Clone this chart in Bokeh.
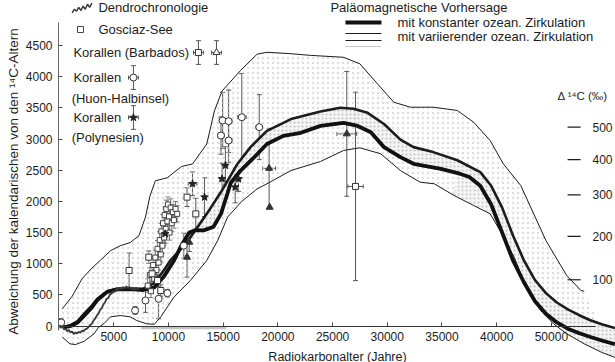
import numpy as np
from bokeh.plotting import figure
from bokeh.models import FixedTicker, Range1d, Whisker, ColumnDataSource, TeeHead, LinearAxis
from bokeh.core.properties import value
from bokeh.embed import file_html
from bokeh.resources import INLINE

FONT = "Liberation Sans"
INK = "#1c1c1c"

# ---------------- data ----------------
x_ticks = [5000, 10000, 15000, 20000, 25000, 30000, 35000, 40000, 45000]
x_tick_labels = ["5000", "10000", "15000", "20000", "25000", "30000", "35000", "40000", "50000"]
y_ticks = [0, 500, 1000, 1500, 2000, 2500, 3000, 3500, 4000, 4500]

# Dendrochronologie
dendro_x = [0, 150, 300, 450, 600, 750, 900, 1050, 1200, 1350, 1500, 1650, 1800, 1950, 2100, 2250,
            2400, 2550, 2700, 2850, 3000, 3150, 3300, 3450, 3600, 3750, 3900, 4050, 4200, 4350, 4500,
            4650, 4800, 4950, 5100, 5250, 5400, 5550, 5700, 5850, 6000, 6150, 6300, 6450, 6600, 6750,
            6900, 7050, 7200, 7350]
dendro_y = [20, -30, 10, -50, -40, -80, -60, -100, -85, -125, -100, -115, -90, -105, -70, -80,
            -50, -40, -10, 20, 40, 90, 120, 170, 200, 260, 290, 350, 380, 440, 450,
            510, 520, 560, 550, 600, 580, 620, 590, 630, 600, 640, 610, 630, 590, 620,
            580, 610, 590, 600]

# Paläomagnetische Vorhersage – outer envelope
env_up_x = [300, 1200, 2100, 3000, 3800, 4700, 5600, 6500, 7300, 7900, 8300, 8800, 9900, 11200, 12200,
            13500, 14200, 14900, 16600, 18100, 19000, 21000, 23000, 26000, 27500, 29100, 30600, 32100,
            34200, 36400, 37900, 39400, 40600, 42200, 44500, 46400, 47700, 48000]
env_up_y = [279, 480, 760, 930, 1060, 1210, 1290, 1340, 1450, 1750, 2080, 2330, 2380, 2560, 2600,
            2920, 3450, 3770, 4100, 4360, 4390, 4370, 4340, 4310, 4205, 3885, 3590, 3510,
            3510, 3457, 3269, 2976, 2603, 2255, 1373, 813, 572, 560]
env_lo_x = [300, 1000, 1500, 2300, 3200, 3600, 4100, 4700, 5600, 6500, 7100, 8000, 8700, 9300, 10500,
            12000, 13500, 14500, 15400, 16700, 18100, 19000, 21200, 23900, 26000, 27500, 29400, 31200,
            33000, 34300, 36100, 37900, 39400, 40300, 41600, 42800, 44000, 45200, 46400, 48000, 49600,
            50800]
env_lo_y = [-176, -283, -295, -240, -122, -20, 40, 150, 171, 150, 91, 38, 30, 150, 465,
            732, 1053, 1373, 1747, 2000, 2200, 2282, 2495, 2640, 2816, 2859, 2763, 2495,
            2308, 2282, 2095, 1934, 1801, 1534, 1106, 572, 252, 38, -122, -282, -420, -500]

# mit variierender ozean. Zirkulation (upper thick curve)
var_x = [400, 1000, 1700, 2300, 3000, 3500, 4400, 5300, 6000, 6800, 7700, 8700, 9600, 10200, 11100,
         12000, 12900, 13800, 14800, 15400, 16300, 17500, 19000, 21200, 23900, 25700, 26900, 28200,
         29700, 31200, 32400, 34200, 36400, 38500, 39500, 40500, 41500, 42500, 43500, 44500, 45500,
         46500, 47500, 48500, 49600, 50800]
var_y = [-20, 10, 80, 200, 330, 440, 560, 600, 605, 600, 600, 690, 900, 1060, 1230,
         1420, 1650, 1880, 2150, 2330, 2600, 2870, 3130, 3320, 3440, 3500, 3485, 3420,
         3240, 2990, 2870, 2790, 2660, 2470, 2250, 1900, 1450, 1050, 740, 530, 380,
         270, 180, 100, 30, -30]

# mit konstanter ozean. Zirkulation (heavy curve)
const_x = [400, 1000, 1700, 2300, 3000, 3500, 4400, 5300, 6800, 7700, 8700, 9600, 10500, 11200, 11900,
           12500, 13200, 14100, 14800, 15400, 15700, 16600, 17800, 19000, 20500, 22100, 23900, 26000,
           27200, 28500, 29700, 31200, 32400, 34900, 36700, 37500, 38500, 39500, 40500, 41500, 42500,
           43500, 44500, 45500, 46500, 47500, 48500, 49600, 50800]
const_y = [-20, 0, 60, 170, 300, 420, 550, 590, 590, 580, 620, 800, 1050, 1300, 1500,
           1540, 1535, 1590, 1800, 2130, 2300, 2495, 2700, 2920, 3050, 3100, 3210, 3260,
           3216, 3109, 2870, 2710, 2603, 2520, 2440, 2390, 2250, 1950, 1500, 1050, 700,
           400, 200, 60, -40, -110, -170, -230, -290]

# Gosciaz-See
gos_x = [8100, 8300, 8400, 8600, 8700, 8800, 8900, 9000, 9100, 9200, 9300, 9350, 9450, 9500, 9600,
         9650, 9750, 9800, 9900, 9950, 10050, 10100, 10200, 10300, 10400, 10500, 10650, 10800]
gos_y = [650, 820, 560, 980, 760, 1100, 900, 1240, 1020, 1380, 1150, 1520, 1290, 1650, 1420,
         1780, 1560, 1880, 1680, 1950, 1760, 1500, 1900, 1650, 1830, 1700, 1880, 1800]
gos_yerr = [110, 120, 100, 130, 110, 120, 110, 130, 120, 140, 120, 130, 120, 140, 130,
            130, 120, 140, 130, 120, 130, 120, 140, 130, 120, 130, 120, 130]

# Korallen (Barbados) – squares and triangles
barb_sq_x = [6400, 8200, 8500, 9000, 9300, 11700, 12500, 27100]
barb_sq_y = [893, 1106, 840, 732, 572, 2068, 1800, 2240]
barb_sq_xerr = [150, 100, 100, 100, 100, 200, 200, 700]
barb_sq_yerr = [280, 100, 120, 100, 90, 150, 250, 1510]
barb_tri_x = [11700, 11900, 19200, 19250, 26300]
barb_tri_y = [1106, 1346, 2530, 1907, 3083]
barb_tri_xerr = [150, 100, 600, 0, 900]
barb_tri_yerr = [320, 150, 640, 0, 1000]

# Korallen (Huon-Halbinsel)
huon_x = [200, 6950, 7900, 9100, 9900, 11400, 14800, 14950, 15500, 15500, 16700, 18300]
huon_y = [60, 252, 412, 439, 529, 1290, 3056, 3297, 2976, 3285, 3349, 3190]
huon_xerr = [100, 100, 150, 150, 150, 150, 300, 300, 300, 300, 400, 300]
huon_yerr = [60, 60, 190, 320, 60, 200, 300, 450, 350, 500, 700, 520]

# Korallen (Polynesien)
poly_x = [9700, 12200, 13300, 14900, 15200, 16100, 16400]
poly_y = [1480, 2282, 2068, 2362, 2575, 2228, 2360]
poly_xerr = [150, 400, 150, 200, 200, 200, 200]
poly_yerr = [150, 190, 310, 250, 300, 250, 200]

# Δ14C scale
delta_labels = ["100", "200", "300", "400", "500"]
delta_y = [744, 1438, 2106, 2671, 3189]

y_title = "Abweichung der kalendarischen von den \u00b9\u2074C-Altern"
x_title = "Radiokarbonalter (Jahre)"

# ---------------- figure ----------------
p = figure(width=615, height=362, x_range=Range1d(-50, 50860), y_range=Range1d(-582, 5220),
           output_backend="svg", toolbar_location=None,
           min_border_left=58, min_border_right=0, min_border_top=0, min_border_bottom=0)
p.grid.visible = False
p.outline_line_color = None
p.background_fill_color = "white"
p.border_fill_color = "white"

xa = p.xaxis[0]
xa.fixed_location = 0
xa.ticker = FixedTicker(ticks=x_ticks)
xa.major_label_overrides = {t: l for t, l in zip(x_ticks, x_tick_labels)}
xa.bounds = (0, 49000)
ya = p.yaxis[0]
ya.ticker = FixedTicker(ticks=y_ticks)
ya.bounds = (-70, 4870)
for ax in (xa, ya):
    ax.major_label_text_font = FONT
    ax.major_label_text_font_size = "12px"
    ax.major_label_text_color = INK
    ax.major_tick_out = 0
    ax.major_tick_in = 4
    ax.minor_tick_in = 0
    ax.minor_tick_out = 0
    ax.major_tick_line_color = "#444"
xa.axis_line_color = "#333"
xa.major_label_standoff = 6
ya.axis_line_color = "#666"
ya.major_label_standoff = 6

# axis titles (separate axes so that each title sits where the reference has it)
xt = LinearAxis(fixed_location=0, ticker=FixedTicker(ticks=[]), axis_line_color=None,
                major_tick_in=0, major_tick_out=0, minor_tick_in=0, minor_tick_out=0,
                major_label_standoff=0, bounds=(0, 51720), axis_label=x_title,
                axis_label_standoff=23, axis_label_text_font=FONT,
                axis_label_text_font_style="normal", axis_label_text_font_size="12.5px",
                axis_label_text_color=INK)
p.add_layout(xt, "below")
yt = LinearAxis(ticker=FixedTicker(ticks=[]), axis_line_color=None,
                major_tick_in=0, major_tick_out=0, minor_tick_in=0, minor_tick_out=0,
                major_label_standoff=0, bounds=(1030, 4230), axis_label=y_title,
                axis_label_standoff=2, axis_label_text_font=FONT,
                axis_label_text_font_style="normal", axis_label_text_font_size="13.5px",
                axis_label_text_color=INK)
p.add_layout(yt, "left")

# stippled envelope
env_xs = env_up_x + env_lo_x[::-1]
env_ys = env_up_y + env_lo_y[::-1]
p.patch(env_xs, env_ys, fill_color=None, line_color=None,
        hatch_pattern=".", hatch_color="#c6c6c6", hatch_scale=5, hatch_alpha=0.6)
band_xs = var_x + const_x[::-1]
band_ys = var_y + const_y[::-1]
p.patch(band_xs, band_ys, fill_color="#f3f3f3", fill_alpha=0.9, line_color=None,
        hatch_pattern=".", hatch_color="#aaaaaa", hatch_scale=4, hatch_alpha=0.7)
rb_top = [(x, y) for x, y in zip(var_x, var_y) if x >= 36000]
rb_bot = [(x, y) for x, y in zip(env_lo_x, env_lo_y) if x >= 36000][::-1]
p.patch([x for x, _ in rb_top + rb_bot], [y for _, y in rb_top + rb_bot], fill_color="#f4f4f4",
        fill_alpha=0.8, line_color=None, hatch_pattern=".", hatch_color="#b0b0b0",
        hatch_scale=4, hatch_alpha=0.7)

# gray band along axis
p.line([7500, 15300], [-25, -25], line_color="#c4c4c4", line_width=3)

# envelope lines and prediction curves
p.line(env_up_x, env_up_y, line_color=INK, line_width=1)
p.line(env_lo_x, env_lo_y, line_color=INK, line_width=1)
p.line(var_x, var_y, line_color=INK, line_width=2.6)
p.line(const_x, const_y, line_color="#111", line_width=3.8)
p.line(dendro_x, dendro_y, line_color="#3a3a3a", line_width=1.8)


def errbars(xs, ys, xerr, yerr, color="#555"):
    xs = np.asarray(xs, float); ys = np.asarray(ys, float)
    xerr = np.asarray(xerr, float); yerr = np.asarray(yerr, float)
    sv = ColumnDataSource(dict(b=xs, lo=ys - yerr, hi=ys + yerr))
    wv = Whisker(source=sv, base="b", lower="lo", upper="hi", dimension="height",
                 line_color=color, line_width=1,
                 lower_head=TeeHead(size=5, line_color=color, line_width=1),
                 upper_head=TeeHead(size=5, line_color=color, line_width=1))
    p.add_layout(wv)
    sh = ColumnDataSource(dict(b=ys, lo=xs - xerr, hi=xs + xerr))
    wh = Whisker(source=sh, base="b", lower="lo", upper="hi", dimension="width",
                 line_color=color, line_width=1,
                 lower_head=TeeHead(size=4, line_color=color, line_width=1),
                 upper_head=TeeHead(size=4, line_color=color, line_width=1))
    p.add_layout(wh)


errbars(gos_x, gos_y, [60] * len(gos_x), gos_yerr, color="#777")
errbars(barb_sq_x, barb_sq_y, barb_sq_xerr, barb_sq_yerr)
errbars(barb_tri_x, barb_tri_y, barb_tri_xerr, barb_tri_yerr)
errbars(huon_x, huon_y, huon_xerr, huon_yerr)
errbars(poly_x, poly_y, poly_xerr, poly_yerr)

p.scatter(gos_x, gos_y, marker="square", size=5, fill_color="white", line_color="#444", line_width=1)
p.scatter(barb_sq_x, barb_sq_y, marker="square", size=6, fill_color="white", line_color="#333")
p.scatter(barb_tri_x, barb_tri_y, marker="triangle", size=7, fill_color="#333", line_color="#333")
p.scatter(huon_x, huon_y, marker="circle", size=7, fill_color="white", line_color="#333")
p.scatter(poly_x, poly_y, marker="star", size=8, fill_color="#222", line_color="#222")

# ---------------- legends ----------------
TXT = dict(text_font=value(FONT), text_font_size="13px", text_baseline="middle",
           text_align="left", text_color=INK)
p.text(x=[3600, 3600, 1316, 1316, 1150, 1316, 1150, 24800, 30930, 30930],
       y=[5107, 4755, 4386, 3985, 3649, 3345, 3024, 5107, 4867, 4643],
       text=["Dendrochronologie", "Gosciaz-See", "Korallen (Barbados)", "Korallen",
             "(Huon-Halbinsel)", "Korallen", "(Polynesien)", "Paläomagnetische Vorhersage",
             "mit konstanter ozean. Zirkulation", "mit variierender ozean. Zirkulation"], **TXT)

leg_dendro_x = [1200, 1400, 1600, 1800, 2000, 2200, 2400, 2600, 2800, 3000]
leg_dendro_y = [5020, 5080, 5050, 5110, 5060, 5130, 5080, 5160, 5110, 5180]
p.line(leg_dendro_x, leg_dendro_y, line_color="#3a3a3a", line_width=1.5)
p.scatter([1960], [4755], marker="square", size=6, fill_color="white", line_color="#444")
errbars([12740, 14390, 6800, 6800], [4386, 4386, 3985, 3345], [450, 450, 450, 450], [190, 190, 190, 190])
p.scatter([12740], [4386], marker="square", size=6, fill_color="white", line_color="#333")
p.scatter([14390], [4386], marker="triangle", size=7, fill_color="white", line_color="#333")
p.scatter([6800], [3985], marker="circle", size=7, fill_color="white", line_color="#333")
p.scatter([6800], [3345], marker="star", size=8, fill_color="#222", line_color="#222")
p.line([26180, 29470], [4867, 4867], line_color="#111", line_width=4)
p.line([26180, 29470], [4691, 4691], line_color=INK, line_width=1.2)
p.line([26180, 29470], [4579, 4579], line_color=INK, line_width=1.2)
p.line([26180, 29470], [4482, 4482], line_color="#888", line_width=1, line_dash="1 1")

# Δ14C scale
p.segment(x0=[46480] * 5, y0=delta_y, x1=[47670] * 5, y1=delta_y, line_color=INK, line_width=1.2)
p.text(x=[48760] * 5, y=delta_y, text=delta_labels, text_font=value(FONT), text_font_size="12px",
       text_baseline="middle", text_align="left", text_color=INK)
p.text(x=[45560], y=[3697], text=["\u0394 \u00b9\u2074C (\u2030)"], text_font=value(FONT),
       text_font_size="11.5px", text_baseline="middle", text_align="left", text_color=INK)

open("out.html", "w").write(file_html(p, INLINE))
